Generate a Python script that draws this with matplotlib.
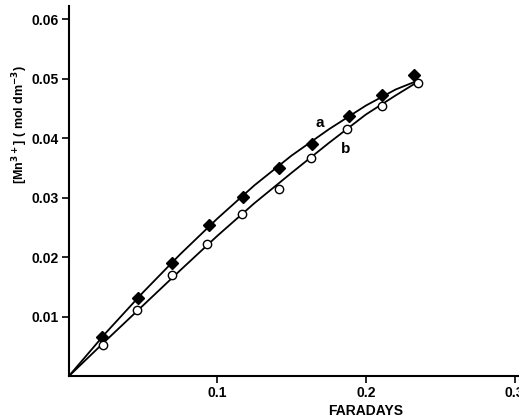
import numpy as np
from matplotlib import pyplot as plt

# data read off the reference
# curve a (filled diamonds)
a_x = [0.0228, 0.0466, 0.0699, 0.0946, 0.1173, 0.1418, 0.1638, 0.1884, 0.2111, 0.2322]
a_y = [0.0067, 0.0131, 0.0191, 0.0255, 0.0301, 0.0351, 0.0390, 0.0438, 0.0472, 0.0507]
# curve b (open circles)
b_x = [0.0234, 0.0463, 0.0699, 0.0933, 0.1164, 0.1418, 0.1633, 0.1873, 0.2111, 0.2349]
b_y = [0.0053, 0.0112, 0.0170, 0.0222, 0.0273, 0.0315, 0.0367, 0.0416, 0.0454, 0.0493]

# drawn smooth lines
line_x = [0, 0.025, 0.05, 0.075, 0.1, 0.125, 0.15, 0.175, 0.2, 0.22, 0.235]
line_a = [0, 0.0073, 0.0141, 0.0205, 0.0265, 0.0321, 0.0371, 0.0415, 0.0455, 0.0482, 0.0497]
line_b = [0, 0.0060, 0.0119, 0.0178, 0.0236, 0.0291, 0.0342, 0.0392, 0.0440, 0.0472, 0.0495]

x_ticks = [0.1, 0.2, 0.3]
y_ticks = [0.01, 0.02, 0.03, 0.04, 0.05, 0.06]

plt.rcParams['font.family'] = ['Liberation Sans', 'DejaVu Sans']
plt.rcParams['font.weight'] = 'bold'

fig = plt.figure(figsize=(5.19, 4.18), dpi=100)
ax = fig.add_axes([0.132, 0.0993, 0.868, 0.886])

ax.plot(line_x, line_a, color='black', lw=1.3)
ax.plot(line_x, line_b, color='black', lw=1.3)
ax.plot(a_x, a_y, 'D', color='black', markersize=6)
ax.plot(b_x, b_y, 'o', markerfacecolor='white', markeredgecolor='black',
        markeredgewidth=1.0, markersize=6)

ax.text(0.1687, 0.0426, 'a', fontsize=11, fontweight='bold', ha='center', va='center')
ax.text(0.1867, 0.0382, 'b', fontsize=11, fontweight='bold', ha='center', va='center')

ax.set_xlim(0, 0.303)
ax.set_ylim(0, 0.0622)
ax.set_xticks(x_ticks)
ax.set_xticklabels(['0.1', '0.2', '0.3'])
ax.set_yticks(y_ticks)
ax.set_yticklabels(['0.01', '0.02', '0.03', '0.04', '0.05', '0.06'])
ax.tick_params(direction='out', length=5, width=1.2, labelsize=10, pad=2)

for side in ['top', 'right']:
    ax.spines[side].set_visible(False)
for side in ['left', 'bottom']:
    ax.spines[side].set_linewidth(1.5)

fig.text(366 / 519, 1 - 411 / 418, 'FARADAYS', fontsize=10, fontweight='bold',
         ha='center', va='center')
fig.text(20 / 519, 1 - 125 / 418, '[Mn$^{\\mathbf{3+}}$] ( mol dm$^{\\mathbf{-3}}$)',
         fontsize=9, fontweight='bold', rotation=90, ha='center', va='center')

plt.savefig('out.png', dpi=100)
